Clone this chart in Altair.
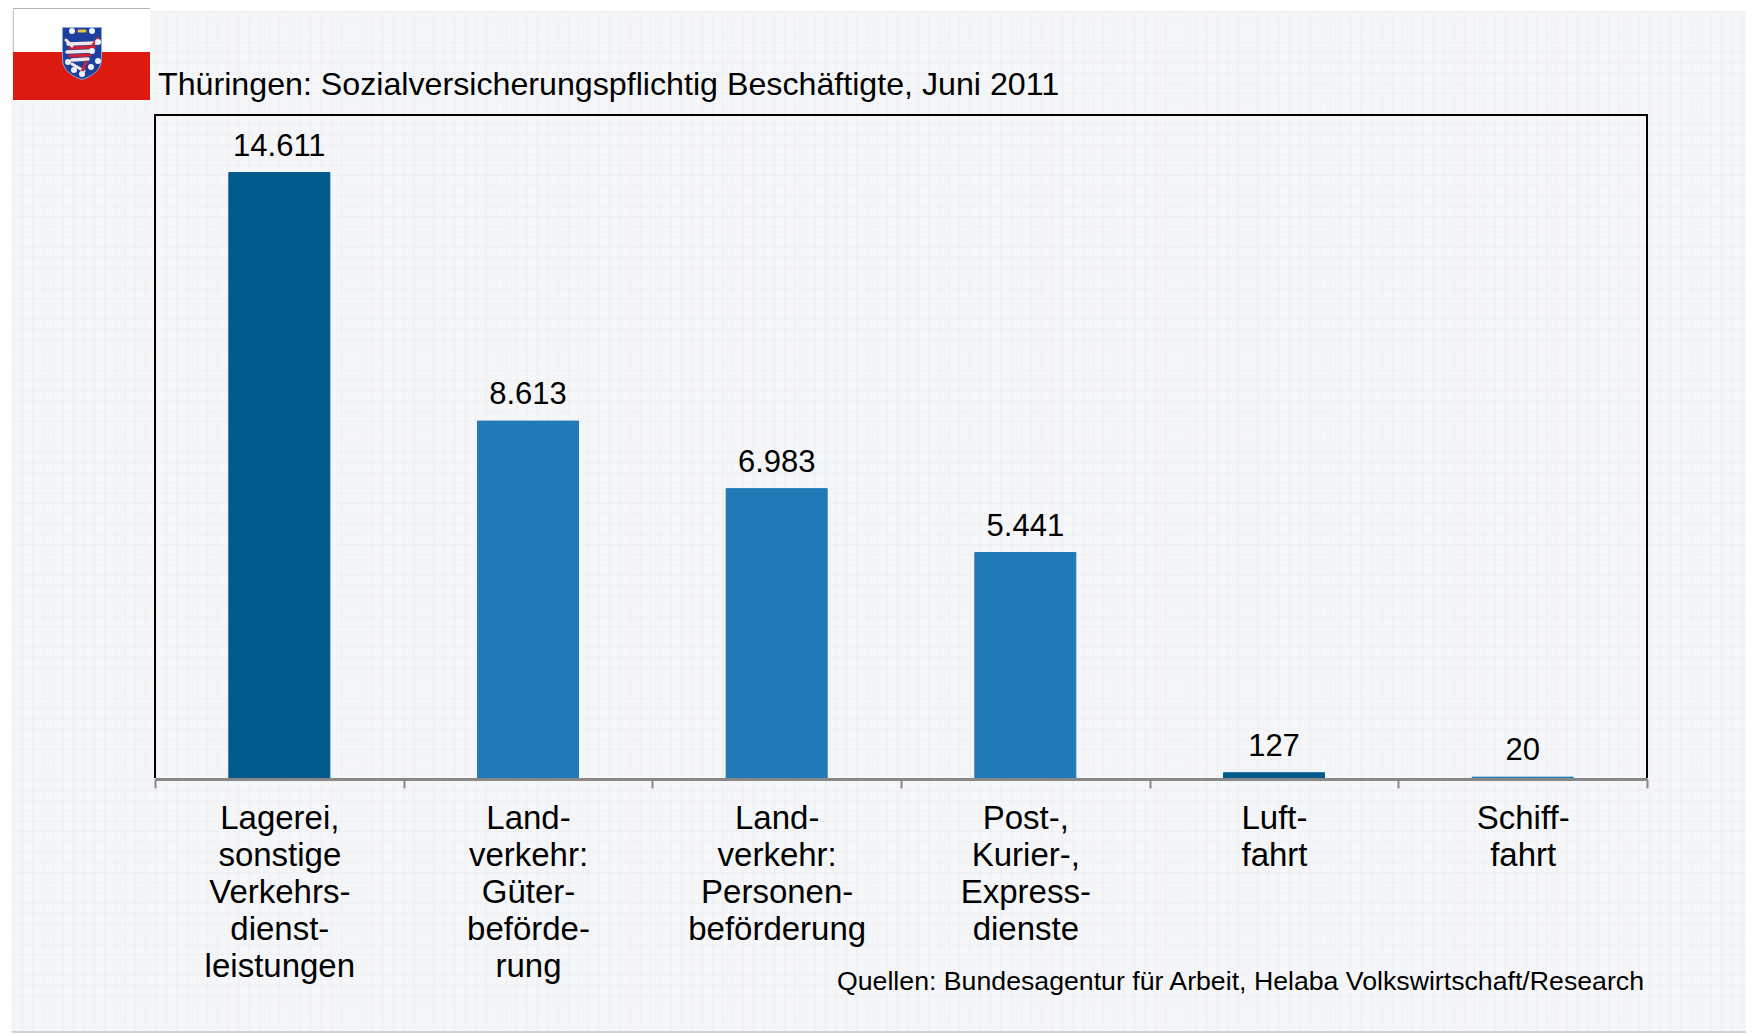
import altair as alt
import pandas as pd

FONT = "Liberation Sans"

# chart data
categories = [
    "Lagerei,|sonstige|Verkehrs-|dienst-|leistungen",
    "Land-|verkehr:|Güter-|beförde-|rung",
    "Land-|verkehr:|Personen-|beförderung",
    "Post-,|Kurier-,|Express-|dienste",
    "Luft-|fahrt",
    "Schiff-|fahrt",
]
values = [14611, 8613, 6983, 5441, 127, 20]
value_labels = ["14.611", "8.613", "6.983", "5.441", "127", "20"]
dark_categories = [categories[0], categories[4]]

TITLE = "Thüringen: Sozialversicherungspflichtig Beschäftigte, Juni 2011"
SOURCE = "Quellen: Bundesagentur für Arbeit, Helaba Volkswirtschaft/Research"

# page geometry (full-size picture pixels)
OX, OY = 155, 115
W, H = 1492, 663
RIGHT = 1746


def px(v):
    return alt.value(v - OX)


def py(v):
    return alt.value(v - OY)


data = pd.DataFrame({"cat": categories, "val": values, "lab": value_labels})

# ---- backdrop
panel = alt.Chart(data).mark_rect(color="#f5f6f8").encode(
    x=px(12), x2=px(RIGHT), y=py(11), y2=py(1032)
)
bottom_line = alt.Chart(data).mark_rule(color="#d2d3d5", strokeWidth=2).encode(
    x=px(12), x2=px(RIGHT), y=py(1032)
)

grid_x = [12 + 10.3 * i for i in range(170) if 12 + 10.3 * i < RIGHT]
grid_y = [11.5 + 10.25 * i for i in range(100) if 11.5 + 10.25 * i < 1031]
gx = alt.Chart(pd.DataFrame({"p": [v - OX for v in grid_x]})).mark_rule(
    color="#eef0f3", strokeWidth=1
).encode(x=alt.X("p:Q", scale=None, axis=None), y=py(11), y2=py(1031))
gy = alt.Chart(pd.DataFrame({"p": [v - OY for v in grid_y]})).mark_rule(
    color="#eef0f3", strokeWidth=1
).encode(y=alt.Y("p:Q", scale=None, axis=None), x=px(12), x2=px(RIGHT))

# ---- flag
flag_white = alt.Chart(data).mark_rect(color="#ffffff").encode(
    x=px(13), x2=px(150), y=py(8), y2=py(52)
)
flag_red = alt.Chart(data).mark_rect(color="#dc1a10").encode(
    x=px(13), x2=px(150), y=py(52), y2=py(100)
)
flag_top = alt.Chart(data).mark_rule(color="#b4b4b4", strokeWidth=1).encode(
    x=px(13), x2=px(150), y=py(8.5)
)
flag_left = alt.Chart(data).mark_rule(color="#c4c4c4", strokeWidth=1).encode(
    x=px(13.5), y=py(8), y2=py(52)
)
SHIELD = "M-0.75 -1 L0.75 -1 L0.75 0.2 C0.75 0.7 0.3 0.9 0 1 C-0.3 0.9 -0.75 0.7 -0.75 0.2 Z"
shield = alt.Chart(data.head(1)).mark_point(
    shape=SHIELD, filled=True, size=2704, color="#1d3f9d", opacity=1,
    stroke="#8fa6d8", strokeWidth=1,
).encode(x=px(82), y=py(53.5))

lion_segments = pd.DataFrame(
    [
        (68, 44, 96, 43, "#f3e6ea", 3.5),
        (70, 48, 94, 47, "#cf2233", 3),
        (67, 52, 92, 51, "#f3e6ea", 3.5),
        (70, 56, 90, 55, "#cf2233", 3),
        (72, 60, 88, 59, "#f3e6ea", 3.5),
        (72, 64, 84, 71, "#f3e6ea", 3),
        (86, 62, 82, 72, "#cf2233", 3),
        (66, 40, 72, 46, "#f3e6ea", 3),
        (92, 46, 98, 38, "#cf2233", 2.5),
        (79, 31, 85, 31, "#e8c33c", 3),
    ],
    columns=["x1", "y1", "x2", "y2", "c", "w"],
)
lion_segments[["x1", "x2"]] -= OX
lion_segments[["y1", "y2"]] -= OY
lion = alt.Chart(lion_segments).mark_rule(strokeCap="round").encode(
    x=alt.X("x1:Q", scale=None, axis=None),
    x2="x2:Q",
    y=alt.Y("y1:Q", scale=None, axis=None),
    y2="y2:Q",
    color=alt.Color("c:N", scale=None),
    strokeWidth=alt.StrokeWidth("w:Q", scale=None),
)
dots = pd.DataFrame(
    {
        "x": [72, 92, 98, 92, 98, 68, 74, 82, 91],
        "y": [31, 31, 42, 51, 61, 62, 70, 74, 67],
    }
)
dots["x"] -= OX
dots["y"] -= OY
shield_dots = alt.Chart(dots).mark_point(
    shape="circle", filled=True, size=36, color="#eef2fa", opacity=1
).encode(
    x=alt.X("x:Q", scale=None, axis=None), y=alt.Y("y:Q", scale=None, axis=None)
)

# ---- frame: top, left and right sides (the axis forms the bottom)
frame_top = alt.Chart(data.head(1)).mark_rule(color="#000000", strokeWidth=2).encode(
    x=alt.value(-1), x2=alt.value(W + 1), y=alt.value(0)
)
frame_left = alt.Chart(data.head(1)).mark_rule(color="#000000", strokeWidth=2).encode(
    x=alt.value(0), y=alt.value(0), y2=alt.value(H)
)
frame_right = alt.Chart(data.head(1)).mark_rule(color="#000000", strokeWidth=2).encode(
    x=alt.value(W), y=alt.value(0), y2=alt.value(H)
)

# ---- chart proper
x_enc = alt.X(
    "cat:N",
    sort=None,
    scale=alt.Scale(paddingInner=0, paddingOuter=0),
    axis=alt.Axis(
        title=None,
        labelExpr="split(datum.label, '|')",
        labelAngle=0,
        labelFont=FONT,
        labelFontSize=33,
        labelColor="#000000",
        labelLineHeight=37,
        labelPadding=14,
        labelLimit=0,
        labelOverlap=False,
        tickBand="extent",
        tickColor="#888888",
        tickWidth=2,
        tickSize=9,
        domainColor="#888888",
        domainWidth=3,
        grid=False,
        offset=1,
        zindex=1,
    ),
)
y_enc = alt.Y("val:Q", scale=alt.Scale(domain=[0, 16000]), axis=None)

bar_color = alt.condition(
    alt.FieldOneOfPredicate("cat", dark_categories),
    alt.value("#005a8c"),
    alt.value("#1f7ab6"),
)
bars = alt.Chart(data).mark_bar(size=101, strokeWidth=1).encode(
    x=x_enc,
    y=y_enc,
    y2=alt.value(H + 3),
    color=bar_color,
    stroke=bar_color,
)
value_text = alt.Chart(data).mark_text(
    font=FONT, fontSize=31, color="#000000", baseline="alphabetic", dy=-17
).encode(x=alt.X("cat:N", sort=None), y=alt.Y("val:Q"), text="lab:N")

plot_layer = alt.layer(frame_top, frame_left, frame_right, bars, value_text)

title_text = alt.Chart(data.head(1)).mark_text(
    font=FONT, fontSize=32.2, color="#000000", align="left", baseline="alphabetic",
    text=TITLE,
).encode(x=px(158), y=py(95))

source_text = alt.Chart(data.head(1)).mark_text(
    font=FONT, fontSize=26.7, color="#000000", align="right", baseline="alphabetic",
    text=SOURCE,
).encode(x=px(1644), y=py(990))

chart = (
    alt.layer(
        panel, bottom_line, gx, gy,
        flag_white, flag_red, flag_top, flag_left, shield, lion, shield_dots,
        plot_layer, title_text, source_text,
    )
    .resolve_scale(x="independent", y="independent")
    .properties(
        width=W,
        height=H,
        padding={"left": 147, "top": 107, "right": 99, "bottom": 255},
        autosize=alt.AutoSizeParams(type="none"),
        background="#ffffff",
    )
    .configure_view(stroke=None)
)

chart.save("out.html", embed_options={"renderer": "svg", "actions": False})
